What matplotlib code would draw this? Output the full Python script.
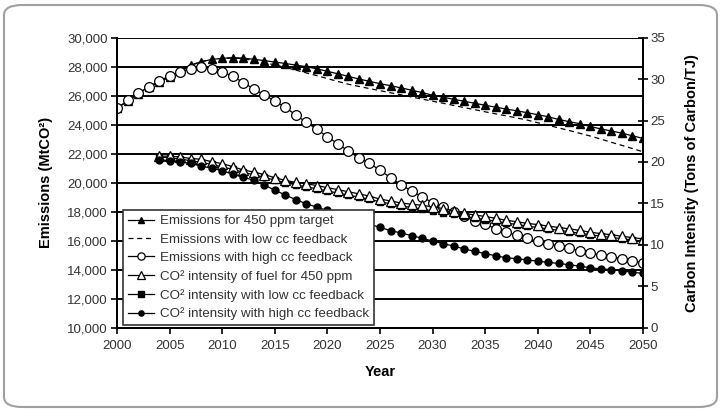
import numpy as np
import matplotlib
matplotlib.use('Agg')
import matplotlib.pyplot as plt
from matplotlib.patches import FancyBboxPatch

plt.rcParams['font.family'] = ['Liberation Sans', 'DejaVu Sans']

# --- Datos ---
anios = list(range(2000, 2051))
anios_int = list(range(2004, 2051))

em_450 = [25130, 25650, 26150, 26600, 26950, 27300, 27700, 28100, 28350, 28500,
          28580, 28620, 28590, 28510, 28420, 28320, 28220, 28110, 28000, 27850,
          27680, 27510, 27330, 27150, 26990, 26830, 26690, 26540, 26380, 26220,
          26030, 25900, 25750, 25620, 25480, 25340, 25210, 25080, 24960, 24830,
          24690, 24550, 24360, 24210, 24070, 23880, 23710, 23570, 23420, 23240,
          23060]
em_low = [25130, 25650, 26150, 26600, 26950, 27300, 27700, 28100, 28350, 28500,
          28580, 28600, 28550, 28430, 28280, 28120, 27950, 27760, 27570, 27380,
          27180, 26980, 26790, 26640, 26490, 26350, 26200, 26060, 25910, 25770,
          25620, 25480, 25330, 25180, 25040, 24890, 24750, 24610, 24470, 24320,
          24140, 23960, 23780, 23600, 23410, 23220, 23010, 22790, 22580, 22360,
          22140]
em_high = [25130, 25680, 26170, 26620, 27020, 27380, 27660, 27860, 27970, 27840,
           27650, 27330, 26900, 26460, 26050, 25630, 25200, 24650, 24170, 23670,
           23170, 22670, 22180, 21700, 21350, 20850, 20350, 19870, 19420, 19030,
           18620, 18300, 17980, 17680, 17370, 17140, 16830, 16580, 16370, 16160,
           15970, 15800, 15640, 15470, 15310, 15160, 15010, 14900, 14760, 14610,
           14480]

int_450 = [20.70, 20.70, 20.60, 20.42, 20.33, 20.03, 19.80, 19.43, 19.03, 18.78,
           18.48, 18.10, 17.77, 17.54, 17.38, 17.15, 16.90, 16.66, 16.40, 16.16,
           15.88, 15.52, 15.30, 15.05, 14.90, 14.78, 14.58, 14.38, 14.12, 13.81,
           13.60, 13.43, 13.20, 12.97, 12.79, 12.60, 12.44, 12.27, 12.09, 11.94,
           11.74, 11.53, 11.36, 11.22, 11.04, 10.88, 10.72]
int_low = [20.60, 20.50, 20.35, 20.15, 19.95, 19.70, 19.40, 19.10, 18.75, 18.45,
           18.15, 17.80, 17.50, 17.25, 17.00, 16.75, 16.50, 16.25, 16.00, 15.75,
           15.50, 15.20, 14.95, 14.72, 14.50, 14.30, 14.10, 13.90, 13.70, 13.45,
           13.25, 13.05, 12.85, 12.65, 12.45, 12.27, 12.10, 11.92, 11.75, 11.58,
           11.40, 11.22, 11.05, 10.90, 10.74, 10.60, 10.45]
int_high = [20.30, 20.12, 20.00, 19.82, 19.50, 19.25, 18.95, 18.50, 18.15, 17.80,
            17.20, 16.60, 16.00, 15.45, 14.95, 14.55, 14.15, 13.75, 13.30, 12.90,
            12.50, 12.10, 11.72, 11.43, 11.12, 10.80, 10.46, 10.15, 9.85, 9.52,
            9.20, 8.95, 8.68, 8.45, 8.33, 8.18, 8.03, 7.88, 7.75, 7.60,
            7.43, 7.24, 7.10, 7.00, 6.85, 6.70, 6.56]

etiquetas = ['Emissions for 450 ppm target',
             'Emissions with low cc feedback',
             'Emissions with high cc feedback',
             'CO² intensity of fuel for 450 ppm',
             'CO² intensity with low cc feedback',
             'CO² intensity with high cc feedback']

# --- Figura ---
fig = plt.figure(figsize=(7.21, 4.09), dpi=100)
fig.patches.append(FancyBboxPatch((4 / 721, 2 / 409), 713 / 721, 402 / 409,
                                  boxstyle='round,pad=0,rounding_size=0.025',
                                  transform=fig.transFigure, facecolor='white',
                                  edgecolor='#a0a0a0', lw=1.5, zorder=-1))
ax = fig.add_axes([117.3 / 721, 1 - 327.7 / 409, 525.4 / 721, 290 / 409])
ax.set_facecolor('none')
ax2 = ax.twinx()

gris = '#333333'
lw = 0.9
h1, = ax.plot(anios, em_450, '-', color='black', lw=lw, marker='^', ms=5.5,
              mfc='black', mec='black', label=etiquetas[0])
h2, = ax.plot(anios, em_low, '--', color='black', lw=lw, dashes=(4, 3),
              label=etiquetas[1])
h3, = ax.plot(anios, em_high, '-', color='black', lw=lw, marker='o', ms=7,
              mfc='white', mec='black', mew=0.9, label=etiquetas[2])

h5, = ax2.plot(anios_int, int_low, '-', color='black', lw=lw, marker='s', ms=5,
               mfc='black', mec='black', label=etiquetas[4])
h4, = ax2.plot(anios_int, int_450, '-', color='black', lw=lw, marker='^', ms=7.5,
               mfc='white', mec='black', mew=0.9, label=etiquetas[3])
h6, = ax2.plot(anios_int, int_high, '-', color='black', lw=lw, marker='o', ms=5,
               mfc='black', mec='black', label=etiquetas[5])

ax.set_xlim(2000, 2050)
ax.set_ylim(10000, 30000)
ax2.set_ylim(0, 35)
ax.set_xticks(range(2000, 2051, 5))
ax.set_yticks(range(10000, 30001, 2000))
ax.yaxis.set_major_formatter(matplotlib.ticker.StrMethodFormatter('{x:,.0f}'))
ax2.set_yticks(range(0, 36, 5))

ax.yaxis.grid(True, color='black', lw=1.4)
ax.set_axisbelow(True)
for a in (ax, ax2):
    a.spines['top'].set_visible(False)
    a.spines['left'].set_linewidth(1.4)
    a.spines['right'].set_linewidth(1.4)
    a.spines['bottom'].set_linewidth(1.4)
ax.tick_params(axis='y', direction='out', length=4, width=1.2, labelsize=9.5,
               labelcolor=gris, pad=3)
ax.tick_params(axis='x', direction='out', length=4, width=1.2, labelsize=9.5,
               labelcolor=gris, pad=5)
ax2.tick_params(axis='y', direction='inout', length=7, width=1.2, labelsize=9.5,
                labelcolor=gris, pad=2)

ax.set_xlabel('Year', fontsize=10.5, fontweight='bold', labelpad=9)
ax.set_ylabel('Emissions (MtCO²)', fontsize=10.5, fontweight='bold', labelpad=10)
ax2.set_ylabel('Carbon Intensity (Tons of Carbon/TJ)', fontsize=10.5,
               fontweight='bold', labelpad=14)

leg = ax2.legend(handles=[h1, h2, h3, h4, h5, h6], loc='lower left',
                 bbox_to_anchor=(0.006, 0.0), fontsize=9.6, frameon=True,
                 fancybox=False, edgecolor='#333333', framealpha=1,
                 markerscale=0.75, handlelength=2.0, handletextpad=0.45,
                 labelspacing=0.45, borderpad=0.35, borderaxespad=0.2)
leg.get_frame().set_linewidth(1.2)
for t in leg.get_texts():
    t.set_color(gris)

fig.savefig('out.png', dpi=100, facecolor='white')
